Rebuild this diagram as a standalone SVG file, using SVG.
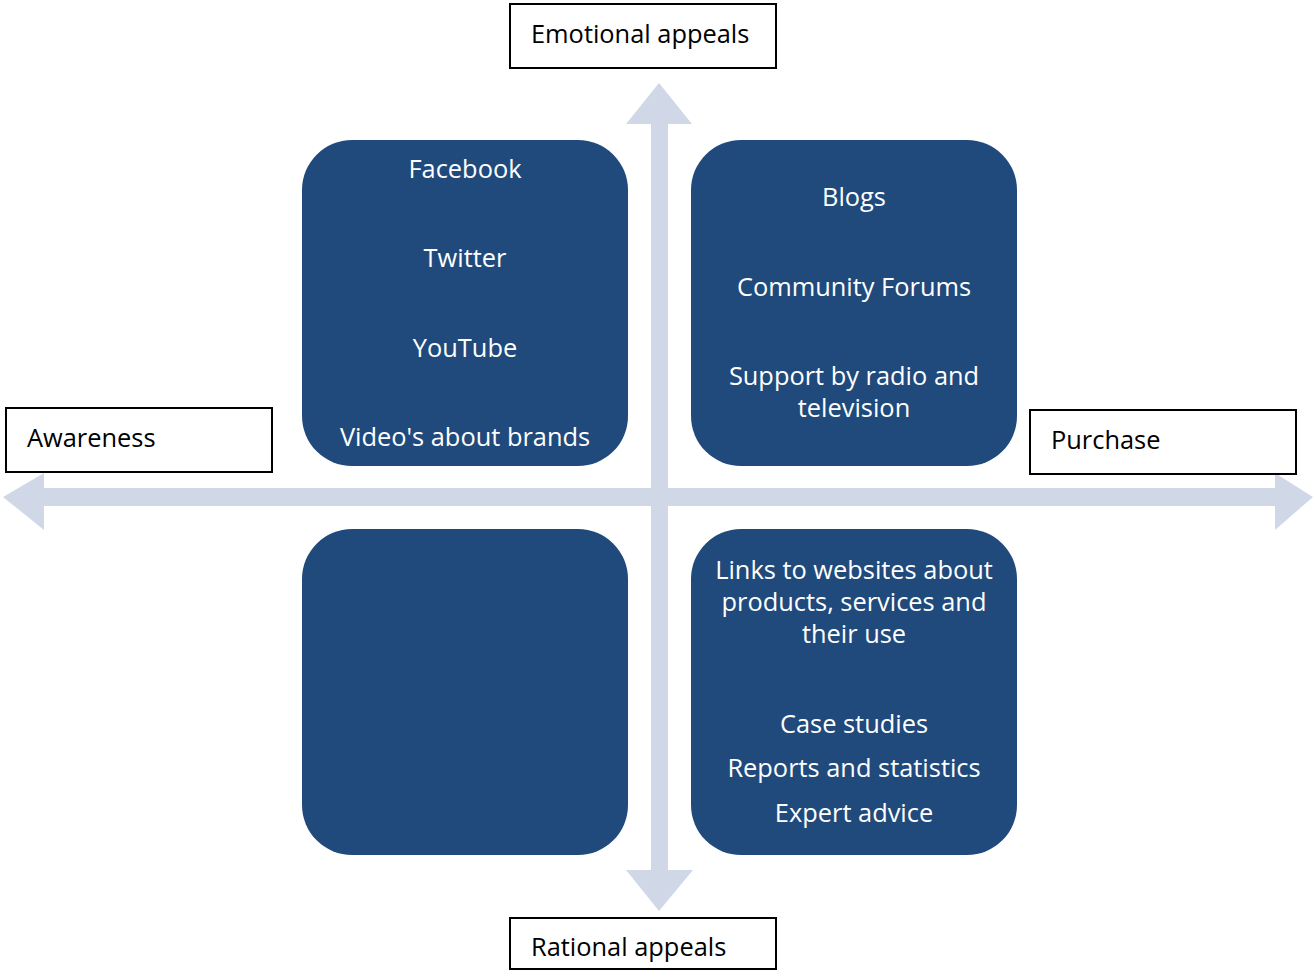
<svg xmlns="http://www.w3.org/2000/svg" width="1314" height="971" viewBox="0 0 1314 971">
<style>
.q{fill:#204A7C}
.qt{font-family:"Open Sans","Liberation Sans",sans-serif;font-size:25.4px;fill:#FFFFFF;text-anchor:middle}
.lb{fill:#FFFFFF;stroke:#000000;stroke-width:2}
.lt{font-family:"Open Sans","Liberation Sans",sans-serif;font-size:25.4px;fill:#000000}
.ax{fill:#D0D8E8}
</style>
<rect width="1314" height="971" fill="#FFFFFF"/>
<g id="connectors">
<polygon class="ax" points="3,497 44,473 44,488 1275,488 1275,473 1313,497 1275,530 1275,506 44,506 44,530"/>
<polygon class="ax" points="659,83 692,124 668,124 668,870 693,870 659,911 626,870 651,870 651,124 626,124"/>
</g>
<g id="q-top-left">
<rect class="q" x="302" y="140" width="326" height="326" rx="50" ry="50"/>
<text class="qt" x="465" y="178">Facebook</text>
<text class="qt" x="465" y="267">Twitter</text>
<text class="qt" x="465" y="357">YouTube</text>
<text class="qt" x="465" y="446">Video's about brands</text>
</g>
<g id="q-top-right">
<rect class="q" x="691" y="140" width="326" height="326" rx="50" ry="50"/>
<text class="qt" x="854" y="206">Blogs</text>
<text class="qt" x="854" y="296">Community Forums</text>
<text class="qt" x="854" y="385">Support by radio and</text>
<text class="qt" x="854" y="417">television</text>
</g>
<g id="q-bottom-left">
<rect class="q" x="302" y="529" width="326" height="326" rx="50" ry="50"/>
</g>
<g id="q-bottom-right">
<rect class="q" x="691" y="529" width="326" height="326" rx="50" ry="50"/>
<text class="qt" x="854" y="579">Links to websites about</text>
<text class="qt" x="854" y="611">products, services and</text>
<text class="qt" x="854" y="643">their use</text>
<text class="qt" x="854" y="733">Case studies</text>
<text class="qt" x="854" y="777">Reports and statistics</text>
<text class="qt" x="854" y="822">Expert advice</text>
</g>
<g id="label-emotional">
<rect class="lb" x="510" y="4" width="266" height="64"/>
<text class="lt" x="531" y="43">Emotional appeals</text>
</g>
<g id="label-awareness">
<rect class="lb" x="6" y="408" width="266" height="64"/>
<text class="lt" x="27" y="447">Awareness</text>
</g>
<g id="label-purchase">
<rect class="lb" x="1030" y="410" width="266" height="64"/>
<text class="lt" x="1051" y="449">Purchase</text>
</g>
<g id="label-rational">
<rect class="lb" x="510" y="918" width="266" height="51"/>
<text class="lt" x="531" y="956">Rational appeals</text>
</g>
</svg>
